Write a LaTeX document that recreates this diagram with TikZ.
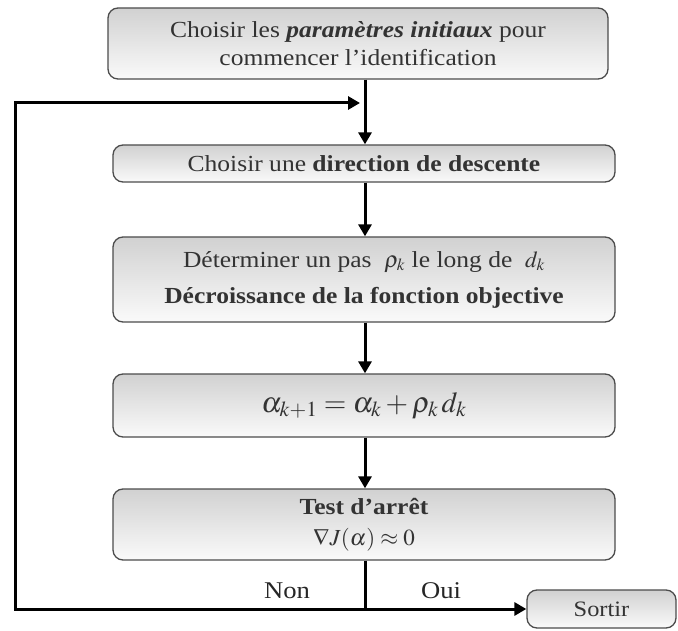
\documentclass[tikz,border=0pt]{standalone}
\usepackage{mathptmx}
\usepackage{fontspec}
\setmainfont[FakeStretch=1.11]{Liberation Serif}
\usetikzlibrary{arrows.meta}
\begin{document}
\begin{tikzpicture}[x=1pt,y=-1pt,
  box/.style={draw=black!70, line width=1.3pt, rounded corners=10pt,
    top color=black!18, bottom color=black!2, text=black!80,
    align=center, inner sep=0pt, font=\fontsize{23}{28}\selectfont},
  arr/.style={line width=3pt, -{Triangle[length=12pt,width=13pt]}},
  ln/.style={line width=3pt},
  lab/.style={font=\fontsize{24}{28}\selectfont, text=black!85}]
\useasboundingbox (0,0) rectangle (678,631);
\node[box, minimum width=500pt, minimum height=71pt] (b1) at (358,43.5)
  {Choisir les \textbf{\textit{paramètres initiaux}} pour\\ commencer l’identification};
\node[box, minimum width=502pt, minimum height=37pt] (b2) at (364,163.5)
  {Choisir une \textbf{direction de descente}};
\node[box, minimum width=502pt, minimum height=85pt, font=\fontsize{23}{36}\selectfont] (b3) at (364,279.5)
  {Déterminer un pas \;$\rho_{k}$ le long de \;$d_{k}$\\ \textbf{Décroissance de la fonction objective}};
\node[box, minimum width=502pt, minimum height=63pt, font=\fontsize{29}{34}\selectfont] (b4) at (364,405.5)
  {$\alpha_{k+1} = \alpha_{k} + \rho_{k}\, d_{k}$};
\node[box, minimum width=502pt, minimum height=71pt, font=\fontsize{23}{31}\selectfont] (b5) at (364,524.5)
  {\textbf{Test d’arrêt}\\ $\nabla J(\alpha) \approx 0$};
\node[box, minimum width=149pt, minimum height=38pt, font=\fontsize{22}{26}\selectfont] (out) at (601.5,609) {Sortir};
\coordinate (c) at (365,0);
\coordinate (split) at (365,609);
\coordinate (bl) at (15,609);
\coordinate (tl) at (15,103);
\coordinate (ent) at (360,103);
\draw[arr] (b1.south -| c) -- (b2.north -| c);
\draw[arr] (b2.south -| c) -- (b3.north -| c);
\draw[arr] (b3.south -| c) -- (b4.north -| c);
\draw[arr] (b4.south -| c) -- (b5.north -| c);
\draw[ln] (b5.south -| c) -- (split);
\draw[arr] (split) -- (bl) -- (tl) -- (ent);
\draw[arr] (split) -- (out.west);
\node[lab] (non) at (287,591) {Non};
\node[lab] (oui) at (441,591) {Oui};
\end{tikzpicture}
\end{document}
